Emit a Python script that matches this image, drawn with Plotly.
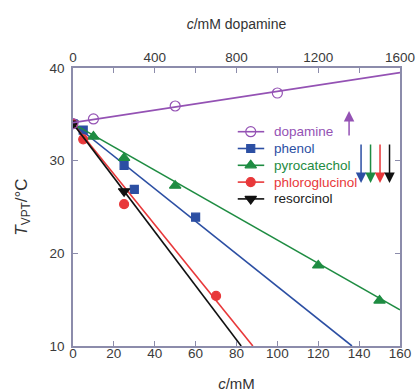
import plotly.graph_objects as go

# ---- data ----
dop_c = [0, 100, 500, 1000]
dop_T = [34.0, 34.5, 35.9, 37.3]
dop_fit_c = [0, 1600]
dop_fit_T = [34.1, 39.5]

phen_c = [0, 5, 25, 30, 60]
phen_T = [34.0, 33.3, 29.5, 26.9, 23.9]
phen_fit_c = [0, 136.5]
phen_fit_T = [34.0, 10.0]

pyro_c = [0, 10, 25, 50, 120, 150]
pyro_T = [33.8, 32.6, 30.3, 27.3, 18.7, 14.9]
pyro_fit_c = [0, 160]
pyro_fit_T = [34.0, 13.9]

phlo_c = [0, 5, 25, 70]
phlo_T = [34.0, 32.3, 25.3, 15.4]
phlo_fit_c = [0, 88]
phlo_fit_T = [34.0, 10.0]

reso_c = [0, 25]
reso_T = [34.0, 26.7]
reso_fit_c = [0, 82.3]
reso_fit_T = [34.0, 10.0]

names = ["dopamine", "phenol", "pyrocatechol", "phloroglucinol", "resorcinol"]

PURPLE = "#9452b4"
BLUE = "#2c4fa3"
GREEN = "#1e8c42"
RED = "#e8383a"
BLACK = "#111111"
AXC = "#8c8cab"
FONT = "Liberation Sans, Arial, sans-serif"

W, H = 418, 392
L, R, T0, B0 = 72.5, 400.0, 68.0, 346.0
def px(xp):
    return (xp - L) / (R - L)
def py(yp):
    return 1 - (yp - T0) / (B0 - T0)

fig = go.Figure()

series = [
    (dop_c, dop_T, dop_fit_c, dop_fit_T, PURPLE, "circle-open", 10, "x2", names[0], PURPLE),
    (phen_c, phen_T, phen_fit_c, phen_fit_T, BLUE, "square", 8, "x", names[1], BLUE),
    (pyro_c, pyro_T, pyro_fit_c, pyro_fit_T, GREEN, "triangle-up", 10, "x", names[2], GREEN),
    (phlo_c, phlo_T, phlo_fit_c, phlo_fit_T, RED, "circle", 9, "x", names[3], RED),
    (reso_c, reso_T, reso_fit_c, reso_fit_T, BLACK, "triangle-down", 10, "x", names[4], "#222222"),
]

anns = []
row0, rowgap = 131.7, 16.8
for i, (c, T, fc, fT, col, sym, sz, xa, nm, tcol) in enumerate(series):
    fig.add_trace(go.Scatter(x=fc, y=fT, mode="lines", xaxis=xa, yaxis="y",
                             line=dict(color=col, width=1.6), showlegend=False, hoverinfo="skip"))
    fig.add_trace(go.Scatter(x=c, y=T, mode="markers", xaxis=xa, yaxis="y",
                             marker=dict(symbol=sym, size=sz, color=col,
                                         line=dict(color=col, width=1.2)),
                             showlegend=False, hoverinfo="skip"))
    # manual legend sample
    yrow = py(row0 + i * rowgap)
    fig.add_trace(go.Scatter(x=[px(237.5), px(264)], y=[yrow, yrow], mode="lines",
                             xaxis="x3", yaxis="y3", line=dict(color=col, width=1.6),
                             showlegend=False, hoverinfo="skip"))
    fig.add_trace(go.Scatter(x=[px(250.5)], y=[yrow], mode="markers",
                             xaxis="x3", yaxis="y3",
                             marker=dict(symbol=sym, size=sz, color=col,
                                         line=dict(color=col, width=1.2)),
                             showlegend=False, hoverinfo="skip"))
    anns.append(dict(x=px(272), y=yrow, xref="paper", yref="paper", text=nm,
                     showarrow=False, xanchor="left", yanchor="middle",
                     font=dict(family=FONT, size=13.5, color=tcol)))

anns.append(dict(x=px(349), y=py(111), xref="paper", yref="paper", text="",
                 showarrow=True, ax=0, ay=26, arrowhead=2, arrowsize=1.4,
                 arrowwidth=1.5, arrowcolor=PURPLE, standoff=0))
for xpix, col in [(361, BLUE), (370.5, GREEN), (380, RED), (389.5, BLACK)]:
    anns.append(dict(x=px(xpix), y=py(183), xref="paper", yref="paper", text="",
                     showarrow=True, ax=0, ay=-40, arrowhead=2, arrowsize=1.4,
                     arrowwidth=1.5, arrowcolor=col, standoff=0))

tickfont = dict(family=FONT, size=13.5, color="#3a3a3a")
fig.update_layout(
    width=W, height=H,
    margin=dict(l=L, r=W - R, t=T0, b=H - B0),
    paper_bgcolor="white", plot_bgcolor="white",
    font=dict(family=FONT, size=13.5, color="#333333"),
    showlegend=False,
    annotations=anns,
    xaxis=dict(range=[0, 160], dtick=20, tick0=0, ticks="inside", ticklen=5,
               tickcolor=AXC, showline=True, linecolor=AXC, linewidth=1.5,
               showgrid=False, zeroline=False, tickfont=tickfont, automargin=False,
               ticklabelstandoff=-6,
               title=dict(text="<i>c</i>/mM", font=dict(family=FONT, size=15, color="#333333"),
                          standoff=19)),
    xaxis2=dict(range=[0, 1600], dtick=400, tick0=0, ticks="inside", ticklen=5,
                tickcolor=AXC, overlaying="x", side="top", showline=True,
                linecolor=AXC, linewidth=1.5, showgrid=False, zeroline=False,
                minor=dict(dtick=200, ticks="inside", ticklen=5, tickcolor=AXC),
                tickfont=tickfont, automargin=False, ticklabelstandoff=-1,
                title=dict(text="<i>c</i>/mM dopamine",
                           font=dict(family=FONT, size=14, color="#333333"), standoff=17)),
    xaxis3=dict(domain=[0, 1], range=[0, 1], visible=False, overlaying="x"),
    yaxis=dict(range=[10, 40], dtick=10, ticks="inside", ticklen=5, tickcolor=AXC,
               showline=True, linecolor=AXC, linewidth=1.5, mirror="ticks",
               showgrid=False, zeroline=False, tickfont=tickfont, automargin=False,
               ticklabelstandoff=4,
               title=dict(text="<i>T</i><sub>VPT</sub>/°C",
                          font=dict(family=FONT, size=17, color="#333333"), standoff=18)),
    yaxis3=dict(domain=[0, 1], range=[0, 1], visible=False, overlaying="y"),
)

fig.write_html("out.html", config={"displayModeBar": False})
